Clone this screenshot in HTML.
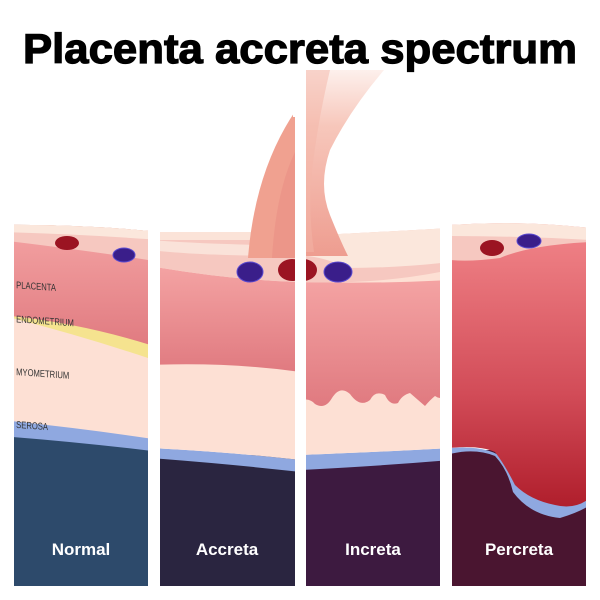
<!DOCTYPE html>
<html><head><style>body{margin:0;background:#fff}svg{display:block}</style></head><body>
<svg width="600" height="600" viewBox="0 0 600 600" xmlns="http://www.w3.org/2000/svg">
<defs>
<clipPath id="c1"><rect x="14" y="0" width="134" height="586"/></clipPath>
<clipPath id="c2"><path d="M160 0H293V117L295 117V586H160Z"/></clipPath>
<clipPath id="c3"><rect x="306" y="70" width="134" height="516"/></clipPath>
<clipPath id="c4"><rect x="452" y="0" width="134" height="586"/></clipPath>
<linearGradient id="pl" x1="0" y1="0" x2="0" y2="1"><stop offset="0" stop-color="#f4a3a3"/><stop offset="1" stop-color="#e07a80"/></linearGradient>
<linearGradient id="pc" x1="0" y1="0" x2="0" y2="1"><stop offset="0" stop-color="#f2868a"/><stop offset="0.6" stop-color="#d24c58"/><stop offset="1" stop-color="#b01e2c"/></linearGradient>
<linearGradient id="st" x1="0" y1="1" x2="0" y2="0"><stop offset="0" stop-color="#ee9d90"/><stop offset="0.7" stop-color="#f7c7bb"/><stop offset="1" stop-color="#fdf0ec"/></linearGradient>
</defs>
<text x="300" y="63" text-anchor="middle" font-family="Liberation Sans, sans-serif" font-weight="bold" font-size="42" fill="#000" stroke="#000" stroke-width="1.2" textLength="554" lengthAdjust="spacingAndGlyphs">Placenta accreta spectrum</text>

<!-- Panel 1 -->
<g clip-path="url(#c1)">
<rect x="0" y="425" width="600" height="175" fill="#2d4a6b"/>
<path d="M0 225Q80 224 160 232V452Q80 442 0 436Z" fill="#8fa8e0"/>
<path d="M0 225Q80 224 160 232V440Q80 428 0 420Z" fill="#fde0d4"/>
<path d="M0 225Q80 224 160 232V362Q80 335 0 315Z" fill="#f5e38f"/>
<path d="M0 225Q80 224 160 232V348Q80 322 0 315Z" fill="url(#pl)"/>
<path d="M0 225Q80 224 160 232V262Q100 252 0 240Z" fill="#f6c8c0"/>
<path d="M0 225Q80 224 160 232V240Q80 234 0 232Z" fill="#fbe7dc"/>
<ellipse cx="67" cy="243" rx="12" ry="7" fill="#9b1422"/>
<ellipse cx="124" cy="255" rx="11" ry="7" fill="#3a1e8a" stroke="#5a4ad0" stroke-width="1"/>
<g font-family="Liberation Sans, sans-serif" font-size="9" fill="#333" transform="skewY(4)">
<text x="16" y="287" transform="scale(0.85,1.1) translate(3,-26)">PLACENTA</text>
<text x="16" y="322" transform="scale(0.85,1.1) translate(3,-30)">ENDOMETRIUM</text>
<text x="16" y="375" transform="scale(0.85,1.1) translate(3,-35)">MYOMETRIUM</text>
<text x="16" y="428" transform="scale(0.85,1.1) translate(3,-40)">SEROSA</text>
</g>
</g>

<!-- Panel 2 -->
<g clip-path="url(#c2)">
<rect x="0" y="455" width="600" height="145" fill="#2a2540"/>
<path d="M150 448Q230 452 300 460V472Q230 464 150 458Z" fill="#8fa8e0"/>
<path d="M150 232H300V460Q230 452 150 448Z" fill="#fde0d4"/>
<path d="M150 266Q230 280 300 282V372Q230 362 150 365Z" fill="url(#pl)"/>
<path d="M150 232H300V282Q230 280 150 266Z" fill="#f6c8c0"/>
<path d="M150 232H300V240H150Z" fill="#fbe3d8"/>
<path d="M150 240Q200 244 300 246V256Q200 256 150 250Z" fill="#fbe8de" opacity="0.8"/>
<path d="M248 258Q255 170 296 110V258Z" fill="#f0a190"/>
<path d="M272 258Q276 190 296 150V258Z" fill="#e98f85" opacity="0.6"/>
<ellipse cx="250" cy="272" rx="13" ry="10" fill="#3a1e8a" stroke="#5a4ad0"/>
<ellipse cx="292" cy="270" rx="14" ry="11" fill="#9b1422"/>
</g>

<!-- Panel 3 -->
<g clip-path="url(#c3)">
<rect x="0" y="460" width="600" height="140" fill="#3d1a40"/>
<path d="M300 455Q380 452 450 448V460Q380 466 300 470Z" fill="#8fa8e0"/>
<path d="M300 236Q380 232 450 228V448Q380 452 300 455Z" fill="#fde0d4"/>
<path d="M300 282Q380 284 450 280V396Q440 400 435 396Q430 400 425 406Q418 400 410 393Q402 395 398 403Q390 406 385 395Q375 390 370 400Q360 408 350 394Q340 385 332 398Q325 410 315 404Q310 398 300 400Z" fill="url(#pl)"/>
<path d="M300 236Q380 232 450 228V270Q380 285 300 282Z" fill="#f6c8c0"/>
<path d="M300 236Q380 232 450 228V262Q400 268 345 268Q330 258 300 255Z" fill="#fbe7dc"/>
<path d="M300 70H384Q350 110 330 150Q318 185 330 215Q340 240 348 256L300 256Z" fill="url(#st)"/>
<path d="M306 70H330Q318 120 312 170Q308 210 314 252H300Z" fill="#f3b6a8" opacity="0.5"/>
<ellipse cx="303" cy="270" rx="14" ry="11" fill="#9b1422"/>
<ellipse cx="338" cy="272" rx="14" ry="10" fill="#3a1e8a" stroke="#5a4ad0"/>
</g>

<!-- Panel 4 -->
<g clip-path="url(#c4)">
<rect x="450" y="450" width="150" height="150" fill="#4a1530"/>
<path d="M450 454Q475 448 495 456Q508 470 513 492Q530 515 560 518Q580 512 590 505V498Q570 505 550 500Q520 490 505 460Q490 445 450 448Z" fill="#8fa8e0"/>
<path d="M450 225Q520 220 590 228V498Q575 510 555 505Q530 500 515 485Q505 465 495 452Q480 445 450 448Z" fill="url(#pc)"/>
<path d="M450 225Q520 220 590 228V242Q530 245 500 258Q470 262 450 260Z" fill="#f6c8c0"/>
<path d="M450 225Q520 220 590 228V240Q520 236 450 236Z" fill="#fbe7dc"/>
<ellipse cx="492" cy="248" rx="12" ry="8" fill="#9b1422"/>
<ellipse cx="529" cy="241" rx="12" ry="7" fill="#3a1e8a" stroke="#5a4ad0"/>
</g>

<g font-family="Liberation Sans, sans-serif" font-weight="bold" font-size="17" fill="#fff" text-anchor="middle">
<text x="81" y="555">Normal</text>
<text x="227" y="555">Accreta</text>
<text x="373" y="555">Increta</text>
<text x="519" y="555">Percreta</text>
</g>
</svg>
</body></html>
